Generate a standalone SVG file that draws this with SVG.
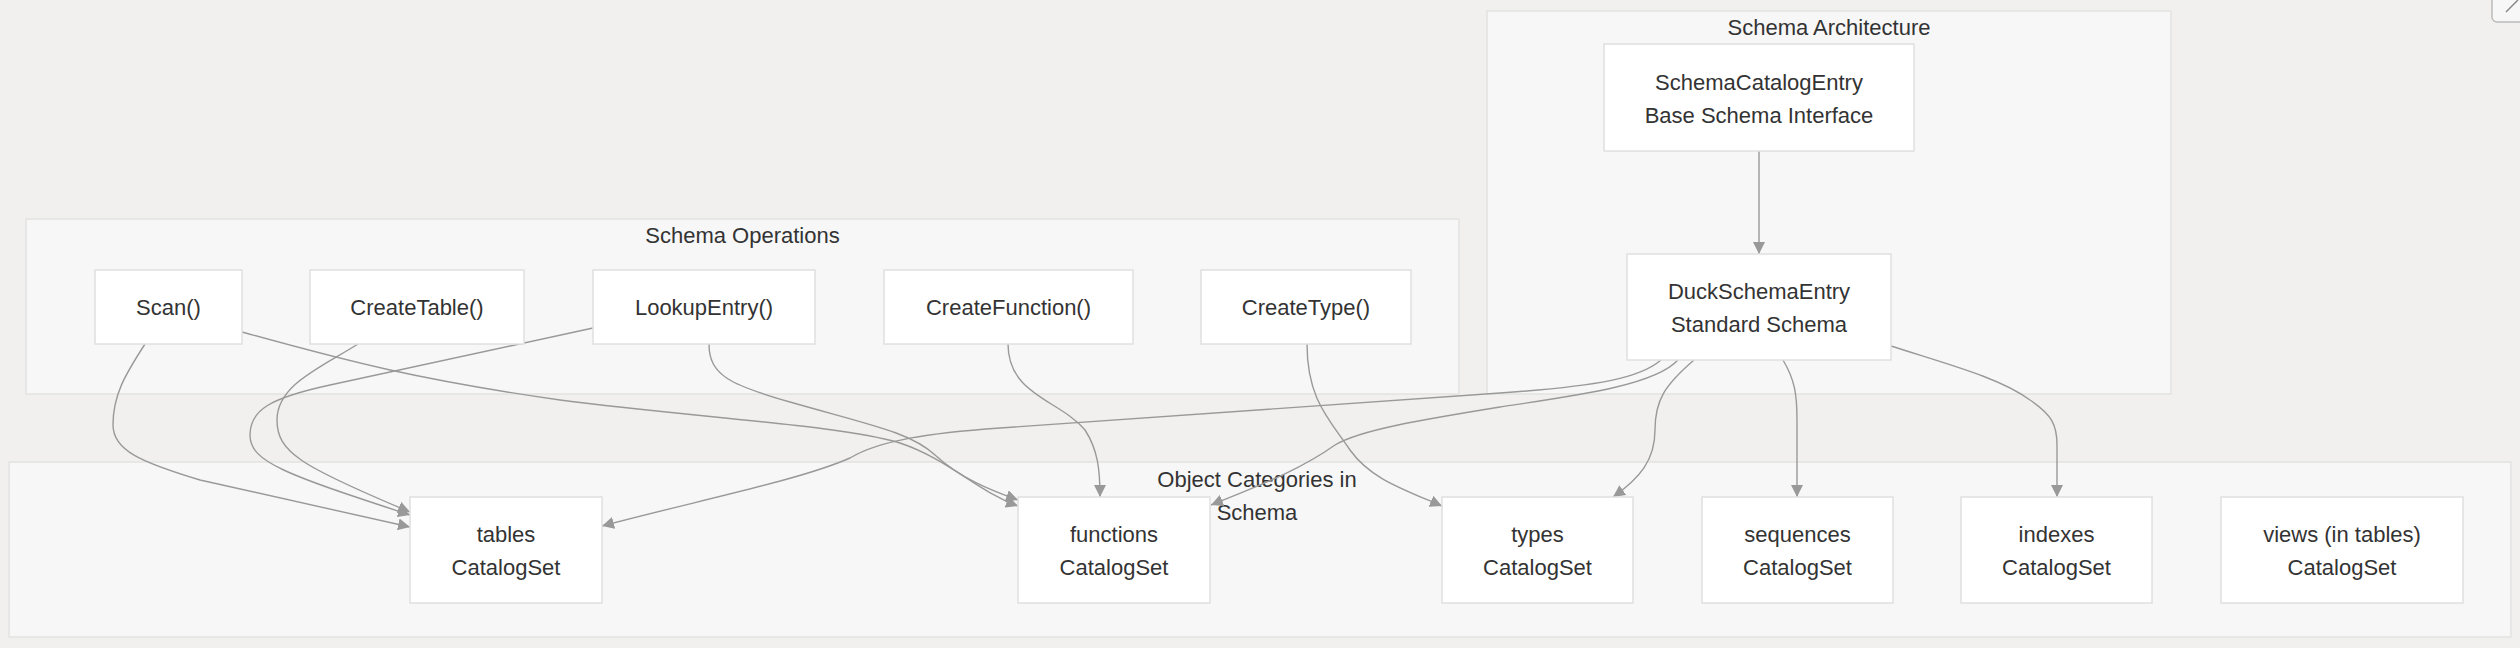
<svg xmlns="http://www.w3.org/2000/svg" width="2520" height="648" viewBox="0 0 2520 648">
<style>
.cl{fill:#f7f7f7;stroke:#e2e2e2;stroke-width:1.5}
.nd{fill:#ffffff;stroke:#e0e0e0;stroke-width:1.5}
.t{font-family:"Liberation Sans",Arial,sans-serif;font-size:22px;fill:#333333;text-anchor:middle}
.e{fill:none;stroke:#999999;stroke-width:1.4}
</style>
<defs>
<marker id="arr" viewBox="0 0 12 12" refX="12" refY="6" markerWidth="12" markerHeight="12" markerUnits="userSpaceOnUse" orient="auto">
<path d="M0,0 L12,6 L0,12 z" fill="#999999"/>
</marker>
</defs>
<rect x="0" y="0" width="2520" height="648" fill="#f1f0ef"/>
<g id="ui-button">
<rect x="2492" y="-8" width="40" height="30" rx="5" fill="#f7f7f7" stroke="#bbbbbb" stroke-width="1.5"/>
<line x1="2506" y1="12" x2="2518" y2="0" stroke="#888888" stroke-width="1.5"/>
</g>
<g id="cluster-ops">
<rect class="cl" x="26" y="219" width="1433" height="175"/>
<text class="t" x="742.5" y="243">Schema Operations</text>
</g>
<g id="cluster-arch">
<rect class="cl" x="1487" y="11" width="684" height="383"/>
<text class="t" x="1829" y="35">Schema Architecture</text>
</g>
<g id="cluster-objects">
<rect class="cl" x="9" y="462" width="2502" height="175"/>
<text class="t" x="1257" y="487">Object Categories in</text>
<text class="t" x="1257" y="520">Schema</text>
</g>
<g id="connectors">
<path class="e" marker-end="url(#arr)" d="M1759,151 L1759,254"/>
<path class="e" marker-end="url(#arr)" d="M145,344 C125,375 113,395 113,425 C113,450 140,462 200,480 L410,527"/>
<path class="e" marker-end="url(#arr)" d="M358,344 C320,368 277,385 277,420 C277,452 300,466 410,512"/>
<path class="e" marker-end="url(#arr)" d="M593,328 L330,385 C270,398 250,410 250,435 C250,462 285,474 410,515"/>
<path class="e" marker-end="url(#arr)" d="M242,332 C350,362 420,380 560,400 C700,418 840,425 900,443 C950,460 975,490 1018,506"/>
<path class="e" marker-end="url(#arr)" d="M709,344 C709,375 730,385 790,402 C870,425 910,432 935,455 C960,478 990,490 1018,500"/>
<path class="e" marker-end="url(#arr)" d="M1008,344 C1008,395 1060,400 1085,430 C1098,450 1100,470 1100,497"/>
<path class="e" marker-end="url(#arr)" d="M1307,344 C1307,400 1330,420 1350,450 C1370,478 1400,488 1442,506"/>
<path class="e" marker-end="url(#arr)" d="M1661,360 C1640,378 1600,386 1500,393 L1000,428 C930,433 880,440 850,458 C800,480 700,500 602,526"/>
<path class="e" marker-end="url(#arr)" d="M1678,360 C1655,385 1580,395 1500,407 C1420,420 1360,430 1335,445 C1300,470 1260,485 1211,505"/>
<path class="e" marker-end="url(#arr)" d="M1694,360 C1665,385 1655,400 1655,430 C1655,460 1640,478 1613,497"/>
<path class="e" marker-end="url(#arr)" d="M1783,360 C1795,380 1797,395 1797,420 L1797,497"/>
<path class="e" marker-end="url(#arr)" d="M1891,346 C1950,365 2000,378 2030,400 C2052,415 2057,425 2057,445 L2057,497"/>
</g>
<g id="node-scan">
<rect class="nd" x="95" y="270" width="147" height="74"/>
<text class="t" x="168.5" y="315">Scan()</text>
</g>
<g id="node-createtable">
<rect class="nd" x="310" y="270" width="214" height="74"/>
<text class="t" x="417" y="315">CreateTable()</text>
</g>
<g id="node-lookupentry">
<rect class="nd" x="593" y="270" width="222" height="74"/>
<text class="t" x="704" y="315">LookupEntry()</text>
</g>
<g id="node-createfunction">
<rect class="nd" x="884" y="270" width="249" height="74"/>
<text class="t" x="1008.5" y="315">CreateFunction()</text>
</g>
<g id="node-createtype">
<rect class="nd" x="1201" y="270" width="210" height="74"/>
<text class="t" x="1306" y="315">CreateType()</text>
</g>
<g id="node-schemacatalogentry">
<rect class="nd" x="1604" y="44" width="310" height="107"/>
<text class="t" x="1759" y="89.5">SchemaCatalogEntry</text>
<text class="t" x="1759" y="122.5">Base Schema Interface</text>
</g>
<g id="node-duckschemaentry">
<rect class="nd" x="1627" y="254" width="264" height="106"/>
<text class="t" x="1759" y="298.5">DuckSchemaEntry</text>
<text class="t" x="1759" y="331.5">Standard Schema</text>
</g>
<g id="node-tables">
<rect class="nd" x="410" y="497" width="192" height="106"/>
<text class="t" x="506" y="541.5">tables</text>
<text class="t" x="506" y="574.5">CatalogSet</text>
</g>
<g id="node-functions">
<rect class="nd" x="1018" y="497" width="192" height="106"/>
<text class="t" x="1114" y="541.5">functions</text>
<text class="t" x="1114" y="574.5">CatalogSet</text>
</g>
<g id="node-types">
<rect class="nd" x="1442" y="497" width="191" height="106"/>
<text class="t" x="1537.5" y="541.5">types</text>
<text class="t" x="1537.5" y="574.5">CatalogSet</text>
</g>
<g id="node-sequences">
<rect class="nd" x="1702" y="497" width="191" height="106"/>
<text class="t" x="1797.5" y="541.5">sequences</text>
<text class="t" x="1797.5" y="574.5">CatalogSet</text>
</g>
<g id="node-indexes">
<rect class="nd" x="1961" y="497" width="191" height="106"/>
<text class="t" x="2056.5" y="541.5">indexes</text>
<text class="t" x="2056.5" y="574.5">CatalogSet</text>
</g>
<g id="node-views">
<rect class="nd" x="2221" y="497" width="242" height="106"/>
<text class="t" x="2342" y="541.5">views (in tables)</text>
<text class="t" x="2342" y="574.5">CatalogSet</text>
</g>
</svg>
